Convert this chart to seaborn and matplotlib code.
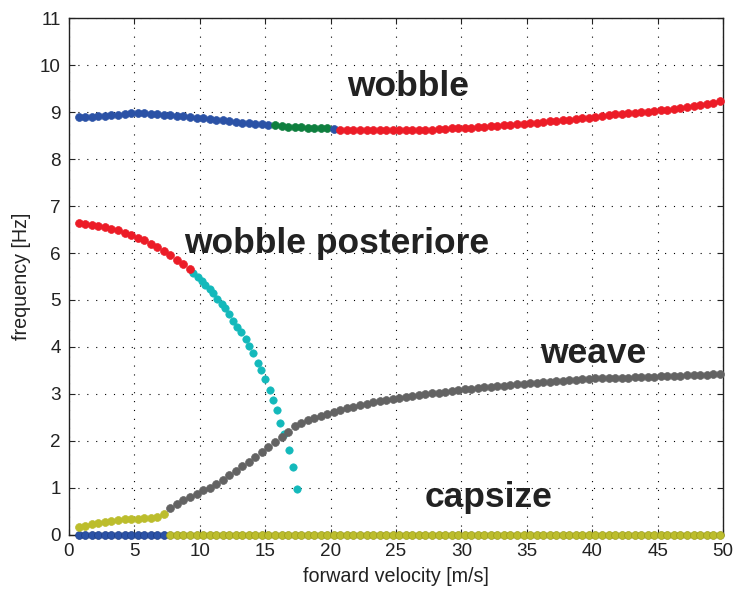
import numpy as np
import pandas as pd
import matplotlib
matplotlib.use("Agg")
import matplotlib.pyplot as plt
import seaborn as sns

# ---- eigenfrequencies vs forward velocity ----
STEP = 0.5

# wobble mode (8.6 - 9.2 Hz), split by colour band
wobble_blue_start = 0.75
wobble_blue = [8.90, 8.90, 8.90, 8.91, 8.92, 8.93, 8.94, 8.96, 8.97, 8.97,
               8.97, 8.96, 8.95, 8.94, 8.93, 8.92, 8.91, 8.90, 8.88, 8.87,
               8.85, 8.84, 8.82, 8.80, 8.79, 8.77, 8.76, 8.75, 8.74, 8.73]
wobble_green_start = 15.75
wobble_green = [8.72, 8.71, 8.69, 8.68, 8.68, 8.67, 8.66, 8.66, 8.65]
wobble_blue2_start = 20.25
wobble_blue2 = [8.64]
wobble_red_start = 20.75
wobble_red = [8.62, 8.62, 8.62, 8.62, 8.62, 8.62, 8.62, 8.62, 8.62, 8.62,
              8.62, 8.62, 8.62, 8.62, 8.62, 8.64, 8.64, 8.65, 8.65, 8.66,
              8.67, 8.68, 8.69, 8.70, 8.71, 8.72, 8.73, 8.74, 8.75, 8.76,
              8.77, 8.79, 8.80, 8.81, 8.83, 8.84, 8.86, 8.87, 8.88, 8.90,
              8.91, 8.93, 8.95, 8.96, 8.97, 8.98, 9.00, 9.01, 9.02, 9.04,
              9.05, 9.07, 9.09, 9.11, 9.13, 9.15, 9.18, 9.20, 9.23]

# rear wobble mode
rear_red_start = 0.75
rear_red = [6.63, 6.62, 6.60, 6.58, 6.55, 6.52, 6.48, 6.43, 6.38, 6.32,
            6.27, 6.20, 6.13, 6.05, 5.96, 5.86, 5.76, 5.65]
rear_cyan_v = [9.48, 9.84, 10.17, 10.40, 10.76, 10.99, 11.32, 11.68, 11.89,
               12.24, 12.55, 12.81, 13.16, 13.50, 13.75, 14.08, 14.44, 14.65,
               15.00, 15.36, 15.57, 15.93, 16.16, 16.46, 16.85, 17.10, 17.46]
rear_cyan_f = [5.57, 5.48, 5.40, 5.31, 5.23, 5.14, 5.03, 4.91, 4.82,
               4.70, 4.56, 4.43, 4.31, 4.18, 4.02, 3.87, 3.67, 3.51,
               3.31, 3.09, 2.87, 2.65, 2.39, 2.15, 1.81, 1.45, 0.97]

# weave mode
weave_low_start = 0.75
weave_low = [0.16, 0.20, 0.23, 0.26, 0.28, 0.30, 0.32, 0.33, 0.34, 0.35,
             0.36, 0.37, 0.38, 0.45]
weave_start = 7.75
weave = [0.58, 0.66, 0.74, 0.81, 0.88, 0.95, 1.01, 1.09, 1.18, 1.27,
         1.36, 1.46, 1.56, 1.66, 1.77, 1.87, 1.98, 2.09, 2.20, 2.31,
         2.38, 2.44, 2.49, 2.53, 2.58, 2.62, 2.66, 2.70, 2.73, 2.76,
         2.79, 2.82, 2.85, 2.88, 2.90, 2.92, 2.94, 2.96, 2.98, 3.00,
         3.02, 3.03, 3.05, 3.07, 3.08, 3.10, 3.11, 3.13, 3.14, 3.15,
         3.17, 3.18, 3.19, 3.21, 3.22, 3.23, 3.24, 3.25, 3.26, 3.27,
         3.28, 3.29, 3.30, 3.31, 3.32, 3.33, 3.33, 3.34, 3.34, 3.35,
         3.35, 3.36, 3.36, 3.37, 3.37, 3.38, 3.38, 3.39, 3.39, 3.40,
         3.40, 3.41, 3.41, 3.42, 3.43]

# capsize mode (zero frequency)
capsize_blue_start = 0.75
capsize_blue = [0.0] * 14
capsize_yellow_start = 7.75
capsize_yellow = [0.0] * 85

mode_labels = ["wobble", "wobble posteriore", "weave", "capsize"]

C_BLUE = "#2b52a6"
C_GREEN = "#0f7f3f"
C_RED = "#ec1c27"
C_CYAN = "#13b9bb"
C_GRAY = "#636363"
C_YELLOW = "#bcbd2c"


def frame(start, values):
    v = start + STEP * np.arange(len(values))
    return pd.DataFrame({"v": v, "f": values})


sns.set_style("ticks")
plt.rcParams["font.family"] = ["Liberation Sans", "DejaVu Sans"]

fig = plt.figure(figsize=(7.37, 5.91), dpi=100)
ax = fig.add_axes([0.0936, 0.0948, 0.8874, 0.8747])

S_LINE = 32
S_DOT = 28

layers = [
    (frame(capsize_blue_start, capsize_blue), C_BLUE, S_LINE, "#1e3f88"),
    (frame(capsize_yellow_start, capsize_yellow), C_YELLOW, S_LINE, "#9c9d1c"),
    (pd.DataFrame({"v": rear_cyan_v, "f": rear_cyan_f}), C_CYAN, S_DOT, C_CYAN),
    (frame(rear_red_start, rear_red), C_RED, S_LINE, C_RED),
    (frame(weave_low_start, weave_low), C_YELLOW, S_LINE, C_YELLOW),
    (frame(weave_start, weave), C_GRAY, S_LINE, C_GRAY),
    (frame(wobble_blue_start, wobble_blue), C_BLUE, S_LINE, C_BLUE),
    (frame(wobble_green_start, wobble_green), C_GREEN, S_LINE, C_GREEN),
    (frame(wobble_blue2_start, wobble_blue2), C_BLUE, S_LINE, C_BLUE),
    (frame(wobble_red_start, wobble_red), C_RED, S_LINE, C_RED),
]
for df, col, size, edge in layers:
    sns.scatterplot(data=df, x="v", y="f", color=col, s=size, linewidth=0.5,
                    edgecolor=edge, ax=ax, zorder=3, clip_on=False)

ax.set_xlim(0, 50)
ax.set_ylim(0, 11)
ax.set_xticks(np.arange(0, 51, 5))
ax.set_yticks(np.arange(0, 12, 1))

ax.grid(True, linestyle=(0, (1, 7)), color="black", linewidth=0.8)
ax.set_axisbelow(True)

for side in ["left", "right", "top", "bottom"]:
    ax.spines[side].set_visible(True)
    ax.spines[side].set_color("#222222")
    ax.spines[side].set_linewidth(1.0)

ax.tick_params(direction="in", length=4, width=0.8, top=True, right=True,
               labelsize=13.6, colors="#222222", pad=6)

ax.set_xlabel("forward velocity [m/s]", fontsize=14.2, color="#222222",
              labelpad=5)
ax.set_ylabel("frequency [Hz]", fontsize=14.2, color="#222222", labelpad=6)

txt = dict(fontsize=25.5, fontweight="bold", color="#222222",
           ha="left", va="baseline", zorder=5)
ax.text(21.25, 9.34, mode_labels[0], **txt)
ax.text(8.79, 6.01, mode_labels[1], **txt)
ax.text(36.0, 3.67, mode_labels[2], **txt)
ax.text(27.2, 0.60, mode_labels[3], **txt)

fig.savefig("out.png", dpi=100, facecolor="white")
